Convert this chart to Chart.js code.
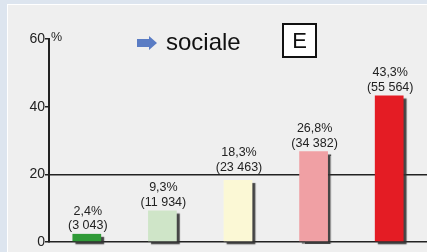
<!DOCTYPE html>
<html lang="fr">
<head>
    <meta charset="UTF-8">
    <title>sociale E</title>
    <script src="https://cdn.jsdelivr.net/npm/chart.js"></script>
    <style>
        html, body { margin: 0; padding: 0; background: #dde5ef; }
        #wrap { width: 427px; height: 252px; }
    </style>
</head>
<body>
    <div id="wrap"><canvas id="chart" width="427" height="252"></canvas></div>
    <script>
        // data
        const categories = ['1', '2', '3', '4', '5'];
        const percents = [2.4, 9.3, 18.3, 26.8, 43.3];
        const counts = [3043, 11934, 23463, 34382, 55564];
        const barColors = ['#2f9a37', '#cfe5c8', '#fbf8d5', '#f0a0a4', '#e41c24'];
        const yTicks = [0, 20, 40, 60];

        function fmtPct(v) { return v.toFixed(1).replace('.', ',') + '%'; }
        function fmtCount(v) { return '(' + String(v).replace(/\B(?=(\d{3})+(?!\d))/g, ' ') + ')'; }

        const decor = {
            id: 'decor',
            beforeDraw(chart) {
                const ctx = chart.ctx;
                ctx.save();
                ctx.fillStyle = '#dde5ef';
                ctx.fillRect(0, 0, 427, 252);
                ctx.fillStyle = '#ffffff';
                ctx.fillRect(7, 4, 420, 248);
                ctx.fillStyle = '#efefef';
                ctx.fillRect(8, 5, 419, 247);
                ctx.restore();
            },
            beforeDatasetsDraw(chart) {
                const ctx = chart.ctx;
                ctx.save();
                ctx.shadowColor = 'rgba(50,50,50,0.9)';
                ctx.shadowOffsetX = 3;
                ctx.shadowOffsetY = 3;
                ctx.shadowBlur = 1;
            },
            afterDatasetsDraw(chart) {
                const ctx = chart.ctx;
                ctx.restore();
                const meta = chart.getDatasetMeta(0);
                const gridY = chart.scales.y.getPixelForValue(20);
                ctx.save();
                ctx.fillStyle = '#222';
                ctx.font = '12.5px "Liberation Sans", Arial, sans-serif';
                ctx.textAlign = 'center';
                ctx.textBaseline = 'middle';
                meta.data.forEach((bar, i) => {
                    let y2 = bar.y - 8;
                    // lift the label clear of the 20 line
                    if (Math.abs(y2 - gridY) < 7) y2 = gridY - 7;
                    ctx.fillText(fmtPct(percents[i]), bar.x + 1, y2 - 14.5);
                    ctx.fillText(fmtCount(counts[i]), bar.x + 1, y2);
                });
                // percent sign at top of axis
                ctx.textAlign = 'left';
                ctx.textBaseline = 'alphabetic';
                ctx.font = '12.5px "Liberation Sans", Arial, sans-serif';
                ctx.fillText('%', 51, 41);
                // arrow
                ctx.fillStyle = '#5a7cc4';
                ctx.beginPath();
                ctx.moveTo(137, 39);
                ctx.lineTo(149, 39);
                ctx.lineTo(149, 36);
                ctx.lineTo(157, 43);
                ctx.lineTo(149, 50);
                ctx.lineTo(149, 47);
                ctx.lineTo(137, 47);
                ctx.closePath();
                ctx.fill();
                // title
                ctx.fillStyle = '#111';
                ctx.font = '24px "Liberation Sans", Arial, sans-serif';
                ctx.fillText('sociale', 166, 50);
                // box E
                ctx.fillStyle = '#fff';
                ctx.fillRect(283, 24, 33, 33);
                ctx.strokeStyle = '#111';
                ctx.lineWidth = 2;
                ctx.strokeRect(283, 24, 33, 33);
                ctx.fillStyle = '#111';
                ctx.font = '22px "Liberation Sans", Arial, sans-serif';
                ctx.textAlign = 'center';
                ctx.fillText('E', 299.5, 48);
                ctx.restore();
            }
        };

        new Chart(document.getElementById('chart'), {
            type: 'bar',
            data: {
                labels: categories,
                datasets: [{
                    data: percents,
                    backgroundColor: barColors,
                    borderWidth: 0,
                    barPercentage: 0.38,
                    categoryPercentage: 1,
                    clip: false
                }]
            },
            options: {
                responsive: false,
                animation: false,
                layout: { padding: { top: 39, bottom: 10, left: 0, right: 0 } },
                plugins: { legend: { display: false }, tooltip: { enabled: false } },
                scales: {
                    x: {
                        grid: { display: false },
                        ticks: { display: false },
                        border: { display: true, color: '#222', width: 1.5 },
                        afterFit: s => { s.height = 0; }
                    },
                    y: {
                        min: 0,
                        max: 60,
                        afterBuildTicks: s => { s.ticks = yTicks.map(v => ({ value: v })); },
                        grid: {
                            color: c => c.tick && c.tick.value === 20 ? '#222' : 'rgba(0,0,0,0)',
                            lineWidth: 1.5,
                            tickColor: '#222',
                            tickLength: 4
                        },
                        border: { display: true, color: '#222', width: 2 },
                        ticks: {
                            color: '#222',
                            padding: 0,
                            font: { family: '"Liberation Sans", Arial, sans-serif', size: 14 }
                        },
                        afterFit: s => { s.width = 49; }
                    }
                }
            },
            plugins: [decor]
        });
    </script>
</body>
</html>
